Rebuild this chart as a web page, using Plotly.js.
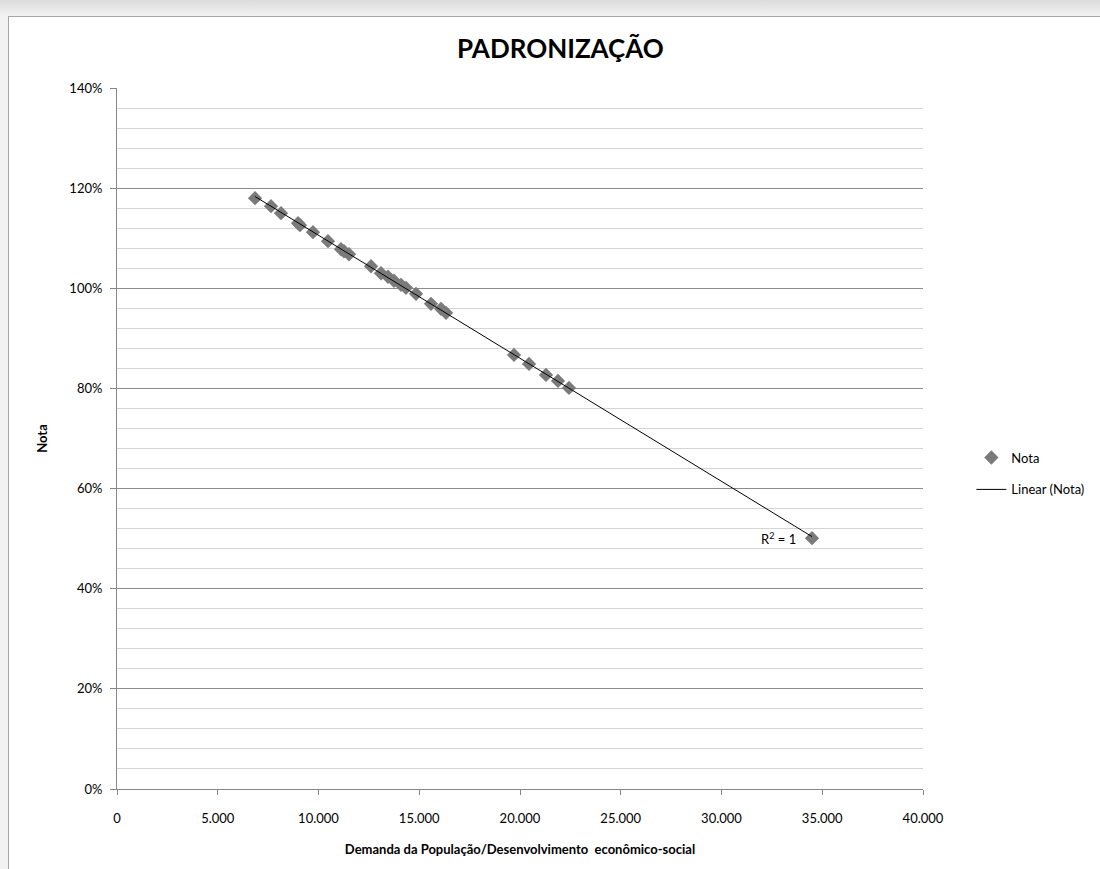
<!DOCTYPE html>
<html>
<head>
<meta charset="utf-8">
<script src="https://cdn.plot.ly/plotly-3.0.1.min.js"></script>
<style>
  html, body { margin:0; padding:0; width:1100px; height:869px; overflow:hidden;
    background: linear-gradient(#dcdcdc, #f2f2f2 16px, #f2f2f2); }
  #chart { position:absolute; left:8px; top:16px; width:1092px; height:853px;
    background:#fff; border-left:1px solid #a6a6a6; border-top:1px solid #a6a6a6; box-sizing:border-box; }
</style>
</head>
<body>
<div id="chart"></div>
<script>
// Demanda da População/Desenvolvimento econômico-social
const demanda = [6850, 7643, 8139, 8983, 9082, 9727, 10471, 11117, 11266, 11514,
  12606, 13102, 13449, 13747, 14094, 14342, 14839, 15583, 16080, 16328,
  19702, 20447, 21290, 21886, 22432, 34491];
// Nota (%)
const nota = [118.0, 116.4, 115.0, 113.0, 112.6, 111.2, 109.4, 107.8, 107.4, 106.8,
  104.4, 103.0, 102.3, 101.5, 100.7, 100.1, 98.9, 96.9, 95.9, 95.1,
  86.7, 84.9, 82.7, 81.5, 80.1, 50.1];
const xTicks = [0, 5000, 10000, 15000, 20000, 25000, 30000, 35000, 40000];
const xLabels = ['0', '5.000', '10.000', '15.000', '20.000', '25.000', '30.000', '35.000', '40.000'];
const yTicks = [0, 20, 40, 60, 80, 100, 120, 140];
const yLabels = ['0%', '20%', '40%', '60%', '80%', '100%', '120%', '140%'];

// linear trend (least squares) from the data
const n = demanda.length;
const mx = demanda.reduce((a,b)=>a+b,0)/n;
const my = nota.reduce((a,b)=>a+b,0)/n;
let sxy = 0, sxx = 0;
for (let i=0;i<n;i++){ sxy += (demanda[i]-mx)*(nota[i]-my); sxx += (demanda[i]-mx)**2; }
const slope = sxy/sxx, icpt = my - slope*mx;
const xMin = Math.min(...demanda), xMax = Math.max(...demanda);
const trendX = [xMin, xMax];
const trendY = trendX.map(v => icpt + slope*v);

const font = "Lato, 'Open Sans', 'DejaVu Sans', sans-serif";

const traces = [
  { x: demanda, y: nota, mode: 'markers', type: 'scatter', name: 'Nota', legendgroup: 'a',
    marker: { symbol: 'diamond', size: 11, color: '#7a7a7a' } },
  { x: trendX, y: trendY, mode: 'lines', type: 'scatter', name: 'Linear (Nota)', legendgroup: 'b',
    line: { color: '#000', width: 1 } }
];

const layout = {
  width: 1092, height: 853,
  margin: { l: 108, r: 178, t: 71, b: 81 },
  paper_bgcolor: '#fff', plot_bgcolor: '#fff',
  font: { family: font, size: 13, color: '#000' },
  title: { text: '<b>PADRONIZAÇÃO</b>', x: 0.505, xanchor: 'center', y: 0.963, yanchor: 'middle',
    font: { family: font, size: 26, color: '#000' } },
  xaxis: {
    range: [0, 40000], tickvals: xTicks, ticktext: xLabels,
    showgrid: false, zeroline: false, showline: true, linecolor: '#868686', linewidth: 1,
    ticks: 'outside', ticklen: 5, tickcolor: '#868686', ticklabelstandoff: 12,
    tickfont: { size: 13, family: font },
    title: { text: '<b>Demanda da População/Desenvolvimento  econômico-social</b>', standoff: 20,
      font: { size: 13, family: font } }
  },
  yaxis: {
    range: [0, 140], tickvals: yTicks, ticktext: yLabels,
    showgrid: true, gridcolor: '#8c8c8c', gridwidth: 1,
    minor: { dtick: 4, tick0: 0, showgrid: true, gridcolor: '#d4d4d4', gridwidth: 1, ticks: '' },
    zeroline: false, showline: true, linecolor: '#868686', linewidth: 1,
    ticks: 'outside', ticklen: 6, tickcolor: '#868686', ticklabelstandoff: 5,
    tickfont: { size: 13, family: font },
    title: { text: '<b>Nota</b>', standoff: 18, font: { size: 13, family: font } }
  },
  legend: { x: 1.06, xanchor: 'left', y: 0.45, yanchor: 'middle',
    font: { size: 13, family: font }, bgcolor: 'rgba(0,0,0,0)', tracegroupgap: 12 },
  annotations: [
    { x: xMax, y: icpt + slope*xMax, xref: 'x', yref: 'y', text: 'R<sup>2</sup> = 1',
      showarrow: false, xanchor: 'right', yanchor: 'middle', xshift: -14, yshift: -2,
      font: { size: 13, family: font, color: '#000' } }
  ],
  showlegend: true
};

Plotly.newPlot('chart', traces, layout, { displayModeBar: false, staticPlot: true });
</script>
</body>
</html>
